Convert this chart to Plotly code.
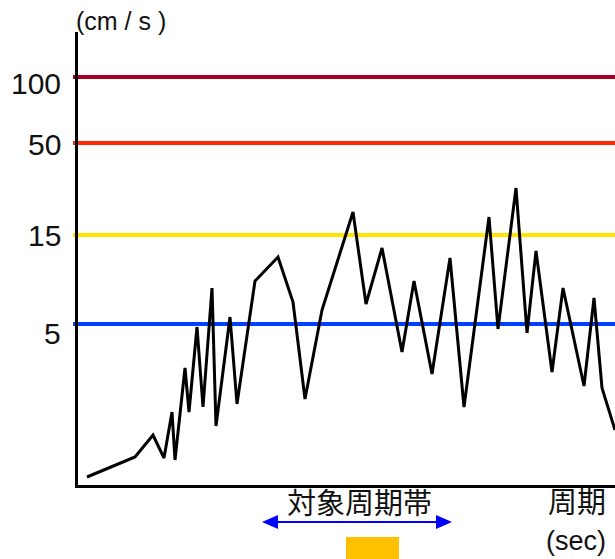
import plotly.graph_objects as go

# Schematic level units (axis is not to scale in the original)
period = [9, 57, 75, 86, 94, 97, 107, 111, 119, 125, 134, 138, 152, 159, 177, 200, 215, 227,
          244, 275, 288, 304, 324, 336, 354, 372, 386, 411, 420, 438, 449, 458, 474, 485,
          506, 516, 524, 537]
velocity_level = [8, 28, 50, 27, 73, 25, 117, 73, 158, 78, 197, 59, 168, 81, 204, 228, 183, 86,
                  175, 273, 181, 237, 133, 204, 111, 227, 78, 268, 156, 297, 152, 234, 113, 197,
                  99, 187, 97, 55]

tick_levels = [161, 250, 342, 408]
tick_labels = ["5", "15", "50", "100"]
label_drop_px = [9, 0, 1, 6]
line_colors = ["#0040FF", "#FFE500", "#FF2A00", "#A50021"]

band_start, band_end = 184, 374      # target period band arrow
block_start, block_end = 268, 321    # orange block

W, H = 615, 559
L, R, T, B = 78, 0, 32, 74
PW, PH = W - L - R, H - T - B

def py(pix):  # pixel y -> paper y
    return (H - B - pix) / PH

fig = go.Figure()

shapes = []
for lvl, col in zip(tick_levels, line_colors):
    shapes.append(dict(type="line", xref="paper", yref="y", x0=-5 / PW, x1=1,
                       y0=lvl, y1=lvl, line=dict(color=col, width=4), layer="below"))

fig.add_trace(go.Scatter(x=period, y=velocity_level, mode="lines",
                         line=dict(color="black", width=3), showlegend=False,
                         hoverinfo="skip", cliponaxis=True))

ya = py(522)
th = 7 / PH
shapes += [
    dict(type="line", xref="x", yref="paper", x0=band_start + 10, x1=band_end - 10,
         y0=ya, y1=ya, line=dict(color="#0000FF", width=2)),
    dict(type="path", xref="x", yref="paper",
         path=f"M {band_start},{ya} L {band_start + 16},{ya + th} L {band_start + 16},{ya - th} Z",
         fillcolor="#0000FF", line=dict(width=0)),
    dict(type="path", xref="x", yref="paper",
         path=f"M {band_end},{ya} L {band_end - 16},{ya + th} L {band_end - 16},{ya - th} Z",
         fillcolor="#0000FF", line=dict(width=0)),
    dict(type="rect", xref="x", yref="paper", x0=block_start, x1=block_end,
         y0=py(559), y1=py(537), fillcolor="#FFC000", line=dict(width=0)),
]

lat = "Liberation Sans, Arial"
ann_font = dict(family=lat, size=25, color="#111")
cjk = dict(family="Noto Sans CJK JP", size=29, color="#111")
annotations = [
    dict(text="(cm / s )", xref="paper", yref="paper", x=-4 / PW, y=py(21), xanchor="left",
         yanchor="middle", showarrow=False, font=ann_font),
    dict(text="対象周期帯", xref="x", yref="paper", x=(band_start + band_end) / 2 + 2,
         y=py(501), xanchor="center", yanchor="middle", showarrow=False, font=cjk),
    dict(text="周期", xref="paper", yref="paper", x=(577 - L) / PW, y=py(500),
         xanchor="center", yanchor="middle", showarrow=False, font=cjk),
    dict(text="(sec)", xref="paper", yref="paper", x=(576 - L) / PW, y=py(541),
         xanchor="center", yanchor="middle", showarrow=False,
         font=dict(family=lat, size=27, color="#111")),
]
for lvl, lab, drop in zip(tick_levels, tick_labels, label_drop_px):
    annotations.append(dict(text=lab, xref="paper", yref="y", x=0, y=lvl, xanchor="right",
                            yanchor="middle", xshift=-15, yshift=-drop, showarrow=False,
                            font=dict(family=lat, size=30, color="#111")))

fig.update_layout(
    width=W, height=H, margin=dict(l=L, r=R, t=T, b=B),
    paper_bgcolor="white", plot_bgcolor="white",
    shapes=shapes, annotations=annotations, showlegend=False,
    xaxis=dict(range=[0, PW], showgrid=False, zeroline=False, showticklabels=False,
               showline=True, linecolor="black", linewidth=3, ticks=""),
    yaxis=dict(range=[0, PH], showgrid=False, zeroline=False, showticklabels=False,
               ticks="", showline=True, linecolor="black", linewidth=3),
)

fig.write_html("out.html", config={"displayModeBar": False},
               post_script="document.body.style.margin='0';document.body.style.padding='0';")
